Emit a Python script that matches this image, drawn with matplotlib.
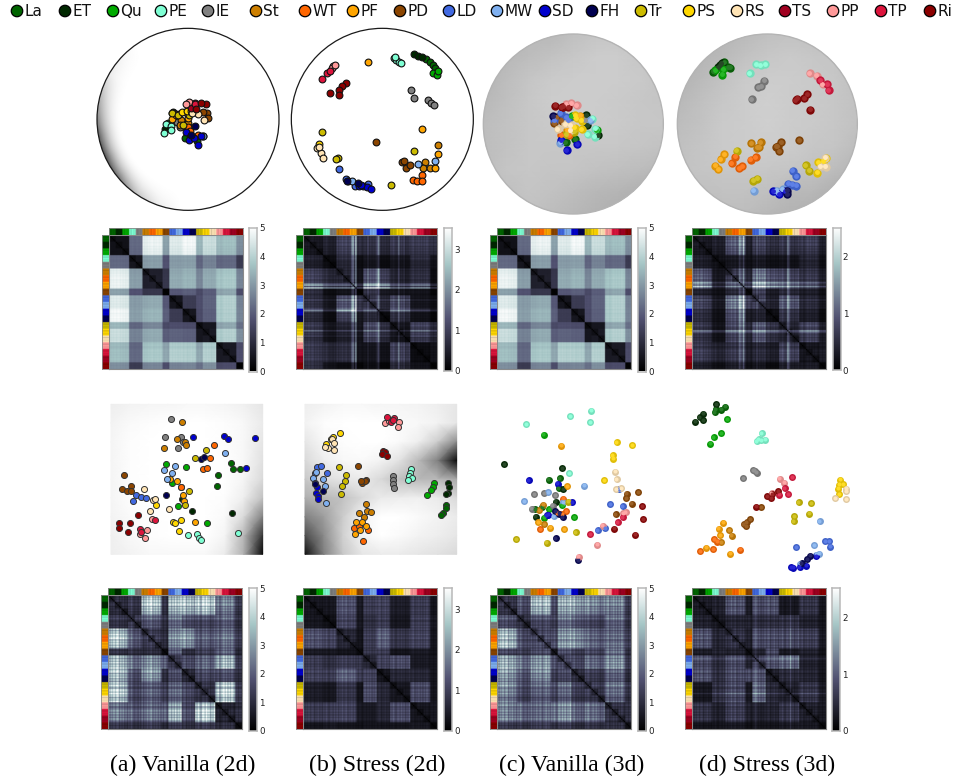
import numpy as np
import matplotlib
matplotlib.use("Agg")
import matplotlib.pyplot as plt
from matplotlib.patches import Circle
from matplotlib.colors import to_rgb

W, H = 958, 782
CLASSES = ["La","ET","Qu","PE","IE","St","WT","PF","PD","LD","MW","SD","FH","Tr","PS","RS","TS","PP","TP","Ri"]
COLORS = ["#006400","#002800","#00aa00","#7fffd4","#808080","#cd7f00","#ff6600","#ffa500","#8b4500","#4169e1",
          "#7fb0f0","#0000cd","#000050","#ccbb00","#ffd700","#ffe4b5","#a00020","#ff9999","#dc143c","#8b0000"]
STRIP_ORDER = ["La","ET","Qu","PE","IE","St","WT","PF","PD","LD","MW","SD","FH","Tr","PS","RS","PP","TP","TS","Ri"]
STRIP_SHADE = [1,.86,1,.93,.97]
LEGEND_X = [17,65,113,161,208,256,305,353,400,449,497,545,592,641,689,737,785,833,881,930]
CAPTIONS = ["(a) Vanilla (2d)","(b) Stress (2d)","(c) Vanilla (3d)","(d) Stress (3d)"]
CAPTION_X = [183,377,572,767]
COL = dict(zip(CLASSES, COLORS))

# scatter positions
TOP_A = {
 "Ri":[(348,103),(333,100),(318,118)], "TS":[(316,100),(303,113)], "TP":[(314,101)], "PP":[(296,95),(287,102)],
 "IE":[(260,155),(270,172),(245,130)], "PE":[(228,163),(243,168),(243,180),(222,188)], "ET":[(226,178),(248,125)],
 "PD":[(350,128),(355,144),(340,125)], "RS":[(323,132),(343,150),(305,128)],
 "St":[(273,150),(270,165),(258,132),(295,160)], "PF":[(247,148),(258,135),(295,145),(285,125)],
 "WT":[(267,132),(293,172),(300,182),(323,195)], "PS":[(277,125),(292,122),(303,122)],
 "Tr":[(245,128),(297,135),(265,135),(280,165)], "Qu":[(233,158),(292,158),(280,167)],
 "LD":[(338,198)], "MW":[(338,197)], "FH":[(316,167),(303,195)], "La":[(284,205),(320,212),(300,195)],
 "SD":[(287,185),(298,210),(313,204),(324,226),(333,197)],
}
TOP_B = {
 "ET":[(972,-48),(984,-42),(996,-39)], "La":[(1008,-33),(1020,-24),(1029,-15),(1035,-6)], "Qu":[(1030,8),(1040,15),(1044,3)],
 "PE":[(912,-36),(918,-30),(927,-24),(933,-21),(915,-39)], "PF":[(834,-24),(997,178),(1045,252),(1035,293)],
 "PP":[(729,-12),(726,-6),(735,-15)], "TP":[(697,28),(712,10),(720,3)],
 "Ri":[(767,38),(755,48),(747,60),(747,74),(719,70)], "IE":[(963,60),(973,83),(1013,90),(1023,98),(1032,105)],
 "St":[(1045,224),(1006,275),(998,295),(1019,293)], "WT":[(997,314),(969,330),(982,333),(995,333)],
 "PD":[(859,217),(937,275),(943,273),(947,293),(961,285)], "MW":[(985,283),(1036,273),(773,333),(787,333)],
 "LD":[(747,298),(768,328),(795,347),(833,342)], "Tr":[(697,185),(973,242),(903,346),(744,263),(739,268)],
 "PS":[(686,223)], "RS":[(682,233),(692,250),(698,265),(686,232)], "FH":[(770,333),(803,340)],
 "SD":[(808,349),(818,348),(830,350),(844,356),(812,345)],
}
MID_A = {
 "IE":[(212,56),(195,112),(242,111),(250,127),(235,145)], "St":[(246,66),(232,116),(254,127),(259,136),(193,145)],
 "SD":[(280,112),(373,109),(383,118),(465,115),(437,203)], "FH":[(197,284),(303,178),(311,172)],
 "WT":[(341,134),(330,173),(308,206),(320,204),(244,262)], "Tr":[(319,149),(286,174),(268,274),(255,316)],
 "MW":[(376,158),(224,197),(193,211),(217,220),(201,237)], "Qu":[(199,192),(259,201),(217,249),(234,319),(321,368)],
 "La":[(392,190),(400,206),(419,208),(355,226),(351,259)], "PF":[(211,237),(232,244),(250,285),(253,302),(285,365)],
 "ET":[(245,296),(276,334),(395,339),(242,262)], "PD":[(73,226),(93,259),(65,268),(81,274),(92,273)],
 "LD":[(107,284),(124,292),(138,295),(100,303)], "RS":[(131,267),(158,300),(166,296),(150,332),(206,327)],
 "PS":[(168,314),(218,365),(225,370),(242,361),(238,394)], "Ri":[(114,346),(56,369),(89,368),(57,385),(84,396)],
 "PP":[(155,356),(141,391),(119,403),(136,413)], "TP":[(166,359),(120,387),(124,396)],
 "PE":[(264,406),(290,403),(298,414),(304,420),(413,400)],
}
MID_B = {
 "PP":[(855,69),(866,64),(896,67),(893,82)], "TP":[(862,52),(883,55),(873,67),(878,60)],
 "Ri":[(848,152),(856,157),(846,163),(861,168)], "PS":[(720,100),(700,111),(677,131)],
 "Tr":[(693,117),(717,201),(738,226),(736,244),(727,257),(724,282)], "RS":[(695,118),(703,128),(685,145),(675,140),(702,151)],
 "PD":[(773,198),(799,240),(786,250),(796,244),(784,244)], "LD":[(650,202),(664,199),(681,220),(645,218)],
 "MW":[(649,216),(638,235),(668,238),(676,259),(678,310)], "SD":[(646,250),(651,261),(647,278),(653,288),(654,298)],
 "FH":[(668,274),(645,252)], "IE":[(879,228),(880,240),(879,253),(883,263)],
 "PE":[(934,208),(930,218),(927,228),(935,235),(925,240)], "Qu":[(1001,249),(1000,262),(993,271),(981,285)],
 "ET":[(1043,250),(1046,260),(1045,278),(1037,283)], "La":[(1039,315),(1039,323),(1028,340),(1024,346)],
 "St":[(799,313),(801,332),(814,336),(778,338),(793,351)], "PF":[(769,366),(786,366),(780,390),(799,379),(765,403)],
 "WT":[(761,385),(776,378),(803,390),(790,424)],
}
MID_C = {
 "PE":[(138,72),(271,48),(334,32),(330,66),(267,220)], "Qu":[(191,104),(247,315),(208,327),(192,353),(282,351)],
 "PF":[(243,137),(261,258),(175,366),(211,383),(253,387)], "ET":[(72,192),(246,204),(249,268),(167,350),(227,305)],
 "PS":[(410,127),(457,136),(398,165),(399,176),(373,240)], "RS":[(406,215),(410,238),(409,267),(424,264)],
 "LD":[(417,268),(391,313),(428,318),(353,391),(376,384)], "PD":[(440,281),(475,276),(438,295),(455,311),(407,342)],
 "SD":[(146,240),(233,251),(277,307),(205,344),(200,345)], "La":[(206,239),(239,234),(236,264),(186,322),(165,327)],
 "MW":[(313,257),(204,277),(133,303),(249,306),(221,348)], "IE":[(163,283),(193,280),(225,285),(155,326),(218,317)],
 "Tr":[(264,305),(287,397),(109,418),(200,428)], "St":[(190,314),(177,330),(192,373)],
 "WT":[(250,296),(259,334),(232,340),(247,343),(181,388)], "FH":[(225,334),(238,341),(248,352),(227,414),(294,481)],
 "Ri":[(487,318),(489,358),(465,404),(402,386)], "TP":[(428,352),(413,367),(330,403)],
 "PP":[(430,340),(437,336),(368,377),(351,434),(296,470)],
}
MID_D = {
 "ET":[(709,12),(670,41),(659,51),(645,65),(670,60)], "La":[(735,20),(723,29),(707,28),(704,37)],
 "Qu":[(742,58),(723,99),(701,112),(690,131)], "PE":[(845,100),(830,124),(836,118),(843,121),(856,119)],
 "IE":[(819,210),(830,218),(790,234),(824,212)], "PP":[(899,236),(913,248),(875,280)],
 "TP":[(937,231),(914,264),(924,283),(898,284)], "Ri":[(895,274),(877,283),(861,289),(874,295),(828,320)],
 "PD":[(844,322),(810,358),(800,367),(791,373),(798,378)], "PS":[(1081,239),(1077,254),(1089,252),(1075,266),(1078,282)],
 "RS":[(1099,266),(1099,274),(1066,295),(1098,298)], "Tr":[(956,307),(994,310),(987,341),(943,349),(941,364)],
 "MW":[(1019,364),(1002,436),(1018,461),(1009,464),(960,491)], "LD":[(1035,423),(1048,424),(1051,440),(948,442)],
 "PF":[(729,368),(716,386),(720,406),(678,443),(751,461)], "St":[(748,390),(755,407),(723,426)],
 "WT":[(702,417),(712,425),(661,453),(700,448),(780,449)], "SD":[(933,501),(940,503),(959,502),(979,497),(1008,468)],
 "FH":[(965,489),(982,478),(990,467)],
}
TOP_C = {
 "Ri":[(226,227),(245,232),(265,232),(250,230)], "PP":[(258,222),(273,220),(290,225)], "FH":[(220,258)],
 "LD":[(242,250),(222,270),(265,270),(258,262)], "PD":[(222,280),(230,262),(245,272)],
 "IE":[(316,270)], "Qu":[(275,258),(350,300)], "ET":[(318,255),(322,285),(355,315)],
 "PE":[(336,266),(346,296),(323,312),(344,320)], "MW":[(240,338),(330,270)],
 "SD":[(292,342),(260,360),(243,330)], "La":[(285,327),(257,337)], "WT":[(268,316),(243,315)],
 "PF":[(300,257),(262,300)], "RS":[(233,298),(255,283),(272,285),(272,300)], "Tr":[(258,312),(282,305)],
 "PS":[(285,255),(305,272),(284,293),(305,298),(290,265)],
}
TOP_D = {
 "Qu":[(726,134),(730,118),(705,120)], "La":[(733,97),(700,125),(745,112),(750,113)], "ET":[(720,105),(725,100),(715,112)],
 "PE":[(829,103),(842,106),(855,102),(809,129)], "IE":[(853,152),(843,169),(835,172),(815,207)],
 "PP":[(989,129),(1010,137),(1028,163)], "TP":[(1021,151),(1041,163),(1046,181)],
 "Ri":[(982,193),(972,205),(951,206),(947,210),(991,239)], "St":[(814,340),(842,336),(838,352),(832,353)],
 "PD":[(903,336),(893,348),(888,350),(897,363),(958,331)], "PF":[(733,372),(722,387),(705,407),(715,417)],
 "WT":[(765,380),(755,399),(787,408),(777,415),(812,389),(827,381)], "Tr":[(770,362),(977,405),(987,422),(820,452),(831,446)],
 "RS":[(1037,410),(1022,408),(1036,383)], "PS":[(1015,397),(1030,395),(1037,385),(1012,428)],
 "LD":[(938,422),(948,439),(924,461),(937,464),(949,467)], "MW":[(821,482),(908,477),(890,482),(895,490),(882,483)],
 "SD":[(880,483),(897,493),(915,483)], "FH":[(922,482),(922,492)],
}

# background shading grids (grey level)
MID_A_BG = [[.93,.95,.96,.96,.97,.97,.96,.94,.90],[.95,.98,.99,1,1,1,.99,.97,.92],[.96,.99,1,1,1,1,.99,.97,.90],
            [.96,.99,1,1,1,1,1,.97,.88],[.96,.99,1,1,1,1,1,.96,.85],[.96,.99,1,1,1,1,.99,.93,.75],
            [.95,.98,.99,1,1,1,.98,.85,.50],[.94,.97,.99,1,1,1,.96,.72,.20],[.93,.95,.97,.97,.97,.97,.92,.68,.02]]
MID_B_BG = [[.93,.95,.97,.97,.96,.96,.95,.93,.90],[.95,.99,1,1,1,.98,.97,.95,.90],[.90,.97,.99,1,1,.98,.93,.80,.55],
            [.85,.93,.97,.98,.95,.88,.72,.50,.03],[.78,.86,.90,.92,.85,.75,.72,.72,.66],[.68,.72,.76,.85,.92,.93,.94,.92,.85],
            [.50,.62,.80,.95,1,1,.98,.95,.92],[.30,.55,.82,.95,1,.98,.95,.93,.90],[.06,.50,.78,.90,.92,.92,.90,.88,.85]]
TOP_C_BG = [[.70,.70,.72,.72,.75,.77,.77,.75,.72],[.70,.72,.74,.76,.78,.80,.80,.78,.74],[.70,.74,.77,.79,.80,.80,.80,.79,.76],
            [.72,.75,.78,.80,.80,.80,.79,.78,.77],[.74,.76,.78,.79,.80,.80,.79,.78,.78],[.74,.76,.78,.78,.78,.78,.78,.77,.76],
            [.74,.77,.78,.77,.77,.76,.75,.74,.72],[.72,.75,.77,.76,.74,.72,.71,.69,.67],[.72,.74,.76,.74,.72,.70,.68,.66,.64]]
TOP_D_BG = [[.68,.69,.71,.73,.75,.76,.75,.74,.72],[.69,.71,.73,.76,.78,.79,.78,.77,.74],[.70,.73,.76,.79,.80,.80,.79,.78,.75],
            [.72,.75,.78,.80,.81,.80,.79,.78,.76],[.74,.76,.79,.80,.81,.80,.79,.78,.76],[.75,.77,.79,.80,.80,.80,.78,.77,.74],
            [.76,.77,.78,.78,.78,.77,.76,.74,.71],[.74,.75,.76,.76,.75,.73,.72,.69,.67],[.72,.73,.74,.74,.72,.70,.68,.66,.64]]
RIM_ANGLE = [125,150,170,190,205,220,235,250,265,360]
RIM_DARK  = [0,.08,.35,.62,.68,.55,.25,.08,0,0]

# class-group distance levels, upper triangle, groups:
# greens / PE,IE / St,WT,PF / PD / LD,MW / SD,FH / Tr,PS,RS / TS,PP,TP / Ri
GROUP_OF = [0,0,0,1,1,2,2,2,3,4,4,5,5,6,6,6,7,7,7,8]
TOP_A_LEVELS = [[.4,2.2,4.6,3.1,4.5,4.7,4.2,3.6,2.8],[.5,3.0,1.8,3.0,3.0,2.6,2.2,1.3],[.7,1.2,3.2,3.3,3.2,3.7,2.6],
                [.1,1.9,2.0,2.0,3.2,1.7],[.5,1.3,2.1,3.9,2.6],[.5,2.0,3.8,2.6],[.6,3.9,2.8],[.6,1.7],[.1]]
TOP_B_LEVELS = [[.4,.5,1.0,.7,.7,.7,.8,.9,.8],[.2,.6,.2,.3,.2,.3,.6,.3],[.6,.3,1.1,1.0,.5,.7,.2],
                [.1,.7,.4,.3,.3,.1],[.7,.6,.9,.3,.2],[.2,.7,.3,.1],[.3,.9,.6],[.2,.3],[.1]]
TOP_D_LEVELS = [[.3,.35,.9,.4,.65,.55,.55,.65,.4],[.2,.25,.2,.25,.2,.2,.4,.2],[.6,.45,1.0,.85,.65,.55,.35],
                [.15,.65,.35,.45,.35,.2],[.6,.35,.75,.4,.25],[.2,.55,.35,.15],[.35,.65,.35],[.25,.35],[.15]]
BOT_A_LEVELS = [[1.0,1.1,3.5,1.3,3.3,3.5,3.5,2.4,1.3],[1.2,1.7,1.2,2.0,1.6,1.4,1.8,1.1],[1.2,1.1,2.4,2.7,1.7,2.1,1.3],
                [.6,2.2,1.2,1.5,2.4,1.1],[1.1,1.5,1.8,3.1,1.3],[.9,1.4,1.6,1.1],[1.0,3.5,1.3],[.8,1.1],[.5]]
BOT_B_LEVELS = [[.35,.35,1.2,.4,.9,1.0,.45,.9,.3],[.25,1.0,.35,.7,.9,.35,.9,.35],[.6,.3,.9,1.4,.8,1.0,.3],
                [.25,.8,.9,.3,.4,.25],[.6,1.0,1.1,.4,.3],[.35,.6,.6,.3],[.35,1.1,.3],[.35,.35],[.15]]
BOT_C_LEVELS = [[1.2,1.6,3.4,1.5,3.1,3.1,2.6,2.6,1.3],[1.0,1.5,1.2,2.0,1.8,1.4,2.0,1.1],[1.5,1.5,2.6,2.7,1.9,2.1,1.3],
                [.7,1.5,1.3,1.4,2.2,1.0],[1.4,1.5,1.9,2.6,1.2],[1.1,1.3,2.1,1.0],[1.2,2.1,1.1],[1.1,1.1],[.6]]
BOT_D_LEVELS = [[.3,.35,.85,.3,.75,.85,.25,.55,.2],[.25,.4,.35,.45,.5,.5,.35,.2],[.55,.35,.75,.8,.75,.65,.25],
                [.2,.35,.75,.25,.35,.15],[.65,.85,.95,.35,.2],[.35,.45,.4,.2],[.35,.55,.25],[.35,.25],[.15]]
# per-class brightness of rows/columns, per-sample stripe texture, bright single lines (index, added level)
CLASS_TONE = {
 "a":[1,1,.98,1,1,1,1.02,1.02,1,1,1,1.02,1.02,.82,1,1,.97,1,1,1],
 "b":[1,1,.9,1.1,.9,1,1,1.1,1,1,1.1,1,.9,1.1,1,.9,1,1,1,.9],
 "d":[1,1,.85,1,.9,1,1.05,1.35,.9,1,1.15,.95,.9,1.1,.95,1,.9,1.1,1,.8],
 "e":[1,1.05,.9,1.1,.9,1,1.1,1,.8,1,1.1,1.05,.95,1,1.1,1,.9,1.1,1,.85],
}
STRIPES = [.6,-.7,.2,-.3,.9,-.5,.3,.8,-.9,.1,-.2,.7,-.6,.4,-.8,.5,-.4,1,-.1,-.9,.3,.6,-.5,.8,-.3]
TOP_B_LINES = [(39,1.6),(37,1.2),(36,.6),(56,1.3),(55,.7),(71,.8),(75,.3),(48,.4)]
TOP_D_LINES = [(71,.9),(72,.6),(35,.45),(38,.6),(48,.3)]
NONE_LINES = []
BOT_D_LINES = [(47,.4),(73,.3)]

def levels_to_matrix(levels, tone, amp, lines):
    g = np.zeros((9, 9))
    for i, row in enumerate(levels):
        for k, v in enumerate(row):
            g[i, i + k] = g[i + k, i] = v
    n = len(CLASSES) * 5
    cls = np.repeat(np.arange(len(CLASSES)), 5)
    grp = np.array(GROUP_OF)[cls]
    f = np.array(tone)[cls] * (1 + amp * np.array([STRIPES[i % len(STRIPES)] for i in range(n)]))
    m = g[np.ix_(grp, grp)] * np.outer(f, f)
    m[cls[:, None] == cls[None, :]] *= .6
    for idx, add in lines:
        m[idx, :] += add * (g[grp[idx], grp] / g.max() + .3)
        m[:, idx] += add * (g[grp[idx], grp] / g.max() + .3)
    np.fill_diagonal(m, 0)
    return m

fig = plt.figure(figsize=(W / 100, H / 100), dpi=100, facecolor="white")

def rect(x0, y0, x1, y1):
    return [x0 / W, 1 - y1 / H, (x1 - x0) / W, (y1 - y0) / H]

def crop_axes(ox, oy, y0, y1, x1):
    ax = fig.add_axes(rect(ox, y0, x1, y1), facecolor="none")
    ax.set_xlim(0, (x1 - ox) * 3)
    ax.set_ylim((y1 - oy) * 3, (y0 - oy) * 3)
    ax.axis("off")
    return ax

def draw_flat(ax, pts, size, edge, lw):
    for name in CLASSES:
        if name in pts:
            xy = np.array(pts[name])
            ax.scatter(xy[:, 0], xy[:, 1], s=size, c=COL[name], edgecolors=edge, linewidths=lw, clip_on=False, zorder=3)

def draw_ball(ax, pts, size):
    for name in CLASSES:
        if name in pts:
            xy = np.array(pts[name])
            rgb = np.array(to_rgb(COL[name]))
            ax.scatter(xy[:, 0], xy[:, 1], s=size, color=tuple(rgb * .85 + .03), linewidths=0, clip_on=False, zorder=3)
            ax.scatter(xy[:, 0] - 1, xy[:, 1] - 1, s=size * .35, color=tuple(rgb * .85 + .15), linewidths=0, clip_on=False, zorder=4)

def grid_bg(ax, x0, x1, y0, y1, grid, clip=None):
    z = np.array(grid)
    xs = np.linspace(x0, x1, z.shape[1])
    ys = np.linspace(y0, y1, z.shape[0])
    pc = ax.pcolormesh(xs, ys, z, shading="gouraud", cmap="gray", vmin=0, vmax=1, zorder=1)
    if clip is not None:
        pc.set_clip_path(clip)

def heat(x0, y0, size, strip, cb_top, cb_bot, cb_x, vmax, ticks, m):
    ax = fig.add_axes(rect(x0, y0, x0 + size, y0 + size))
    ax.imshow(m, cmap="bone", vmin=0, vmax=vmax, interpolation="bilinear", aspect="auto")
    ax.set_xticks([]); ax.set_yticks([])
    for s in ax.spines.values():
        s.set_edgecolor("#8a8a8a"); s.set_linewidth(.8)
    rgb = np.array([np.array(to_rgb(COL[n])) * sh for n in STRIP_ORDER for sh in STRIP_SHADE])
    for a, r in ((fig.add_axes(rect(x0, y0 - strip, x0 + size, y0)), rgb[None, :, :]),
                 (fig.add_axes(rect(x0 - strip, y0, x0, y0 + size)), rgb[:, None, :])):
        a.imshow(r, aspect="auto", interpolation="bilinear")
        a.set_xticks([]); a.set_yticks([])
        for s in a.spines.values():
            s.set_edgecolor("#8a8a8a"); s.set_linewidth(.6)
    cb = fig.add_axes(rect(cb_x, cb_top, cb_x + 8, cb_bot))
    cb.imshow(np.linspace(vmax, 0, 256)[:, None], cmap="bone", vmin=0, vmax=vmax, aspect="auto", extent=[0, 1, 0, vmax])
    cb.set_xticks([]); cb.yaxis.tick_right()
    cb.set_yticks(ticks); cb.set_yticklabels([str(t) for t in ticks])
    cb.tick_params(axis="y", length=0, pad=1.5, labelsize=6.3, labelcolor="#222222")
    for s in cb.spines.values():
        s.set_edgecolor("#b8b8b8"); s.set_linewidth(1.1)

# legend
leg = fig.add_axes([0, 0, 1, 1], facecolor="none")
leg.set_xlim(0, W); leg.set_ylim(H, 0); leg.axis("off")
leg.scatter(LEGEND_X, [11] * len(LEGEND_X), s=68, c=COLORS, edgecolors="black", linewidths=.9, clip_on=False)
for x, name in zip(LEGEND_X, CLASSES):
    leg.text(x + 7.5, 11, name, fontsize=11, va="center", ha="left", color="#111111")
for x, c in zip(CAPTION_X, CAPTIONS):
    leg.text(x, 765, c, fontsize=17.2, family="Liberation Serif", ha="center", va="center", color="black")

# top row, flat discs
ax = crop_axes(90, 70, 25, 215, 470)
ca, cb_, r = (294, 148), (877, 148), 273
yy, xx = np.mgrid[-140:440:2, -10:590:2]
d = np.hypot(xx - ca[0], yy - ca[1]) / r
theta = np.degrees(np.arctan2(-(yy - ca[1]), xx - ca[0])) % 360
dark = np.interp(theta, RIM_ANGLE, RIM_DARK)
shade = 1 - dark * np.clip((d - .72) / .28, 0, 1) ** 2.2
clip_a = Circle(ca, r, transform=ax.transData)
im = ax.imshow(shade, cmap="gray", vmin=0, vmax=1, extent=[-10, 590, 440, -140], aspect="auto", zorder=1, interpolation="bilinear")
im.set_clip_path(clip_a)
ax.set_xlim(0, 380 * 3); ax.set_ylim(145 * 3, -45 * 3)
for c in (ca, cb_):
    ax.add_patch(Circle(c, r, fc="none", ec="#1a1a1a", lw=.9, zorder=2, clip_on=False))
draw_flat(ax, TOP_A, 24, "#111111", .8)
draw_flat(ax, TOP_B, 24, "#111111", .8)

# top row, 3d spheres
ax = crop_axes(480, 30, 30, 220, 860)
for center, grid, pts in (((280, 282), TOP_C_BG, TOP_C), ((862, 282), TOP_D_BG, TOP_D)):
    clip = Circle(center, 270, transform=ax.transData, fc="none", ec="none")
    ax.add_patch(clip)
    grid_bg(ax, center[0] - 270, center[0] + 270, center[1] - 270, center[1] + 270, grid, clip)
    ax.add_patch(Circle(center, 270, fc="none", ec="#b4b4b4", lw=1.0, zorder=2))
    draw_ball(ax, pts, 36)
ax.set_xlim(0, 380 * 3); ax.set_ylim(190 * 3, 0)

# middle row
ax = crop_axes(100, 400, 400, 560, 470)
grid_bg(ax, 33, 488, 13, 463, MID_A_BG)
grid_bg(ax, 615, 1070, 13, 463, MID_B_BG)
ax.set_xlim(0, 370 * 3); ax.set_ylim(160 * 3, 0)
draw_flat(ax, MID_A, 19, "#333333", .7)
draw_flat(ax, MID_B, 19, "#333333", .7)
ax = crop_axes(480, 400, 400, 575, 860)
draw_ball(ax, MID_C, 25)
draw_ball(ax, MID_D, 25)

# heatmaps
tone_flat = [1] * len(CLASSES)
TICKS5 = [0, 1, 2, 3, 4, 5]
TICKS3 = [0, 1, 2, 3]
TICKS2 = [0, 1, 2]
ma = levels_to_matrix(TOP_A_LEVELS, CLASS_TONE["a"], .02, NONE_LINES)
heat(109, 235, 134, 7, 227.5, 371.5, 249.3, 5, TICKS5, ma)
heat(303, 235, 134, 7, 228, 371, 444.3, 3.53, TICKS3, levels_to_matrix(TOP_B_LEVELS, CLASS_TONE["b"], .18, TOP_B_LINES))
heat(497, 235, 134, 7, 227.5, 371.5, 638.3, 5, TICKS5, ma)
heat(692, 235, 134, 7, 228, 370.3, 832.7, 2.51, TICKS2, levels_to_matrix(TOP_D_LEVELS, CLASS_TONE["d"], .22, TOP_D_LINES))
heat(108, 595, 134, 7, 588, 731, 249.3, 5, TICKS5, levels_to_matrix(BOT_A_LEVELS, CLASS_TONE["e"], .26, NONE_LINES))
heat(303, 595, 134, 7, 588, 731, 444.3, 3.53, TICKS3, levels_to_matrix(BOT_B_LEVELS, tone_flat, .22, NONE_LINES))
heat(497, 595, 134, 7, 588, 731, 638.3, 5, TICKS5, levels_to_matrix(BOT_C_LEVELS, CLASS_TONE["b"], .26, NONE_LINES))
heat(692, 595, 134, 7, 588, 731, 832.3, 2.51, TICKS2, levels_to_matrix(BOT_D_LEVELS, tone_flat, .28, BOT_D_LINES))

fig.savefig("out.png", dpi=100, facecolor="white")
